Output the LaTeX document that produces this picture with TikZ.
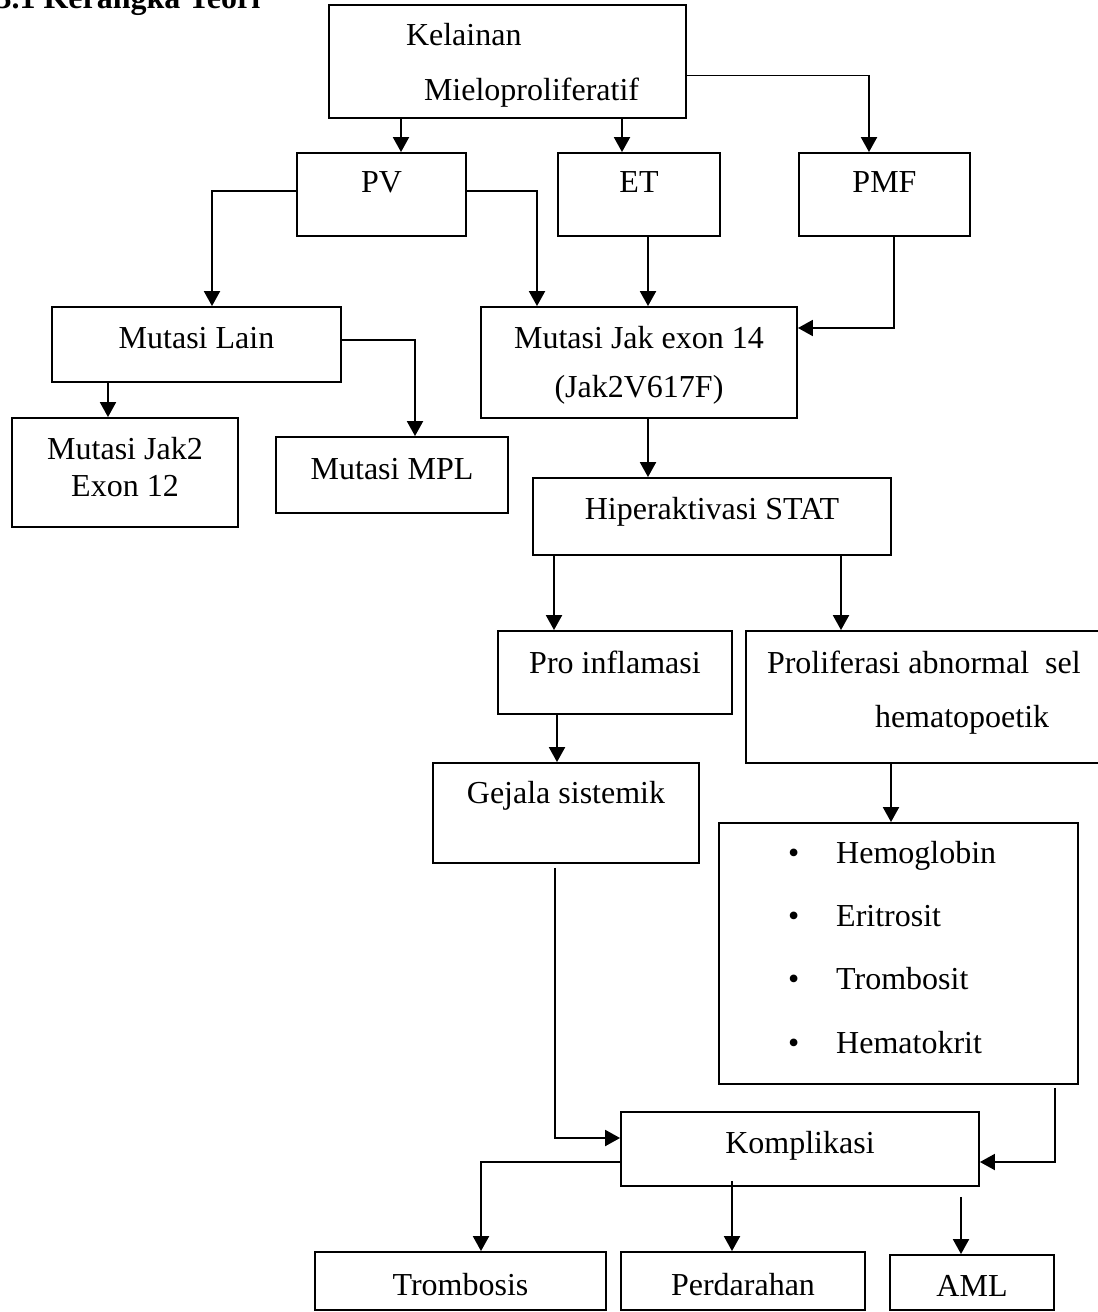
\documentclass[tikz,border=0pt]{standalone}
\usepackage{fontspec}
\setmainfont{Liberation Serif}
\usetikzlibrary{calc, arrows.meta}
\newlength\pxu
\setlength\pxu{0.375pt}

\begin{document}
\begin{tikzpicture}[x=0.375pt, y=-0.375pt,
    box/.style={draw, line width=0.7pt, inner sep=0pt, font=\fontsize{12}{14}\selectfont},
    boxat/.style args={#1/#2/#3/#4/#5}{minimum width={(#3-#1)*\pxu}, text height={(#5-#2)*\pxu}, text depth={(#4-#5)*\pxu}, at={({(#1+#3)/2},{(#2+#4)/2})}},
    arr/.style={-{Triangle[length=5.6pt, width=6pt]}, line width=0.7pt}]
    \useasboundingbox (0,0) rectangle (1098,1312);
    \clip (0,0) rectangle (1098,1312);

    % Judul
    \node[anchor=base west, inner sep=0pt, font=\fontsize{12}{14}\selectfont\bfseries] (judul) at (-5,9) {3.1 Kerangka Teori};

    % Kelainan dan jenisnya
    \node[box, boxat=329/5/686/118/46] (kel) {\makebox[357\pxu][l]{\hspace*{77\pxu}\begin{tabular}[t]{@{}l@{}}Kelainan\\[6.6pt]\hspace*{18\pxu}Mieloproliferatif\end{tabular}}};
    \node[box, boxat=297/153/466/236/193] (pv) {PV};
    \node[box, boxat=558/153/720/236/193] (et) {ET};
    \node[box, boxat=799/153/970/236/193] (pmf) {PMF};

    % Mutasi
    \node[box, boxat=52/307/341/382/348] (ml) {Mutasi Lain};
    \node[box, boxat=481/307/797/418/348] (mj) {\begin{tabular}[t]{@{}c@{}}Mutasi Jak exon 14\\[4.4pt](Jak2V617F)\end{tabular}};
    \node[box, boxat=12/418/238/527/459] (j12) {\begin{tabular}[t]{@{}c@{}}Mutasi Jak2\\Exon 12\end{tabular}};
    \node[box, boxat=276/437/508/513/479] (mpl) {Mutasi MPL};

    % STAT dan akibatnya
    \node[box, boxat=533/478/891/555/519] (hip) {Hiperaktivasi STAT};
    \node[box, boxat=498/631/732/714/673] (pro) {Pro inflamasi};
    \node[box, boxat=746/631/1100/763/673] (prol) {\makebox[354\pxu][l]{\hspace*{21\pxu}\begin{tabular}[t]{@{}l@{}}Proliferasi abnormal\ \ sel\\[6.6pt]\hspace*{108\pxu}hematopoetik\end{tabular}}};
    \node[box, boxat=433/763/699/863/803] (gej) {Gejala sistemik};
    \node[box, boxat=719/823/1078/1084/863] (lst) {\makebox[359\pxu][l]{\hspace*{69\pxu}\begin{tabular}[t]{@{}l@{\hspace{37\pxu}}l@{}}\textbullet & Hemoglobin\\[9.75pt]\textbullet & Eritrosit\\[9.75pt]\textbullet & Trombosit\\[9.75pt]\textbullet & Hematokrit\end{tabular}}};

    % Komplikasi
    \node[box, boxat=621/1112/979/1186/1153] (kom) {Komplikasi};
    \node[box, boxat=315/1252/606/1310/1295] (trom) {Trombosis};
    \node[box, boxat=621/1252/865/1310/1295] (perd) {Perdarahan};
    \node[box, boxat=890/1255/1054/1310/1296] (aml) {AML};

    % Panah
    \draw[arr] ($(kel.south)+(-106.5,0)$) -- ($(pv.north)+(19.5,0)$);
    \draw[arr] ($(kel.south)+(114.5,0)$) -- ($(et.north)+(-17,0)$);
    \draw[arr] ($(kel.east)+(0,14)$) -| ($(pmf.north)+(-15.5,0)$);
    \draw[arr] ($(pv.west)+(0,-3.5)$) -| ($(ml.north)+(15.5,0)$);
    \draw[arr] ($(pv.east)+(0,-3.5)$) -| ($(mj.north)+(-102,0)$);
    \draw[arr] ($(et.south)+(9,0)$) -- ($(mj.north)+(9,0)$);
    \draw[arr] ($(pmf.south)+(9.5,0)$) |- ($(mj.east)+(0,-34.5)$);
    \draw[arr] ($(ml.south)+(-88.5,0)$) -- ($(j12.north)+(-17,0)$);
    \draw[arr] ($(ml.east)+(0,-4.5)$) -| ($(mpl.north)+(23,0)$);
    \draw[arr] ($(mj.south)+(9,0)$) -- ($(hip.north)+(-64,0)$);
    \draw[arr] ($(hip.south)+(-158,0)$) -- ($(pro.north)+(-61,0)$);
    \draw[arr] ($(hip.south)+(129,0)$) -- ($(prol.north)+(-82,0)$);
    \draw[arr] ($(pro.south)+(-58,0)$) -- ($(gej.north)+(-9,0)$);
    \draw[arr] ($(prol.south)+(-32,0)$) -- ($(lst.north)+(-7.5,0)$);
    \draw[arr] ($(gej.south)+(-11,4)$) |- ($(kom.west)+(0,-11)$);
    \draw[arr] ($(lst.south)+(156.5,3)$) |- ($(kom.east)+(0,13)$);
    \draw[arr] ($(kom.west)+(0,13)$) -| ($(trom.north)+(20.5,0)$);
    \draw[arr] ($(kom.south)+(-68,-6)$) -- ($(perd.north)+(-11,0)$);
    \draw[arr] ($(kom.south)+(161,10)$) -- ($(aml.north)+(-11,0)$);
\end{tikzpicture}
\end{document}
